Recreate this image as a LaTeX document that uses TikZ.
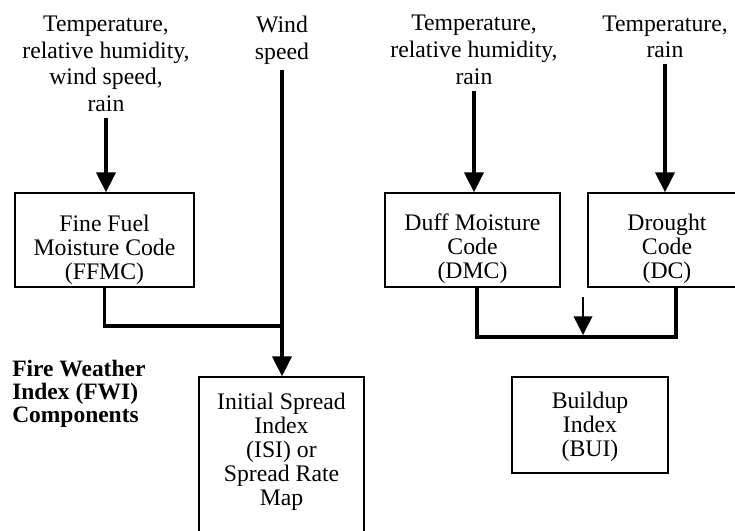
\documentclass[tikz,border=0pt]{standalone}
\usepackage{fontspec}
\setmainfont{Liberation Serif}
\usetikzlibrary{arrows.meta,calc}
\begin{document}
\begin{tikzpicture}[x=0.75pt,y=-0.75pt,
  box/.style={draw, line width=1.1pt, inner sep=0pt, rectangle},
  lbl/.style={align=center, font=\fontsize{17.8}{20}\selectfont, inner xsep=0pt, inner ysep=4.5pt},
  txt/.style={align=center, font=\fontsize{17.8}{18}\selectfont, inner sep=0pt},
  conn/.style={line width=2.3pt},
  arr/.style={conn, -{Triangle[width=14.5pt,length=15pt]}},
  thinarr/.style={line width=1.1pt, shorten >=1.5pt, -{Triangle[width=14pt,length=14pt]}},
]
\clip (0,0) rectangle (735,531);
\fill[white] (0,0) rectangle (735,531);
% input labels
\node[lbl] (in1) at (106,64) {Temperature,\\relative humidity,\\wind speed,\\rain};
\node[lbl] (wind) at (282,40) {Wind\\speed};
\node[lbl] (in2) at (474,50) {Temperature,\\relative humidity,\\rain};
\node[lbl] (in3) at (665,37) {Temperature,\\rain};
% boxes
\node[box, minimum width=134.25pt, minimum height=70.5pt] (ffmc) at (104.5,240) {};
\node[txt] (ffmctxt) at (104.5,250) {Fine Fuel\\Moisture Code\\(FFMC)};
\node[box, minimum width=131.25pt, minimum height=70.5pt] (dmc) at (472.5,240) {};
\node[txt] (dmctxt) at (472.5,249) {Duff Moisture\\Code\\(DMC)};
\node[box, minimum width=118.5pt, minimum height=70.5pt] (dc) at (667,240) {};
\node[txt] (dctxt) at (667,249) {Drought\\Code\\(DC)};
\node[box, minimum width=123.75pt, minimum height=137.25pt] (isi) at (281.5,468.5) {};
\node[txt] (isitxt) at (281.5,452) {Initial Spread\\Index\\(ISI) or\\Spread Rate\\Map};
\node[box, minimum width=117pt, minimum height=72pt] (bui) at (590,425) {};
\node[txt] (buitxt) at (590,427) {Buildup\\Index\\(BUI)};
% side label
\node[anchor=west, align=left, inner sep=0pt, font=\bfseries\fontsize{17.6}{17.25}\selectfont] (fwi) at (12,394) {Fire Weather\\Index (FWI)\\Components};
% connectors
\coordinate (j1) at (282,326);
\coordinate (j2) at (583,337);
\coordinate (a0) at (583,297);
\draw[arr] (in1.south) -- (in1.south |- ffmc.north);
\draw[arr] (in2.south) -- (in2.south |- dmc.north);
\draw[arr] (in3.south) -- (in3.south |- dc.north);
\draw[arr] (wind.south) -- (wind.south |- isi.north);
\draw[conn] (ffmc.south) |- (j1);
\draw[conn] ($(dmc.south)+(4.5,0)$) |- (j2) -| ($(dc.south)+(9,0)$);
\draw[thinarr] (a0) -- (j2);
\end{tikzpicture}
\end{document}
